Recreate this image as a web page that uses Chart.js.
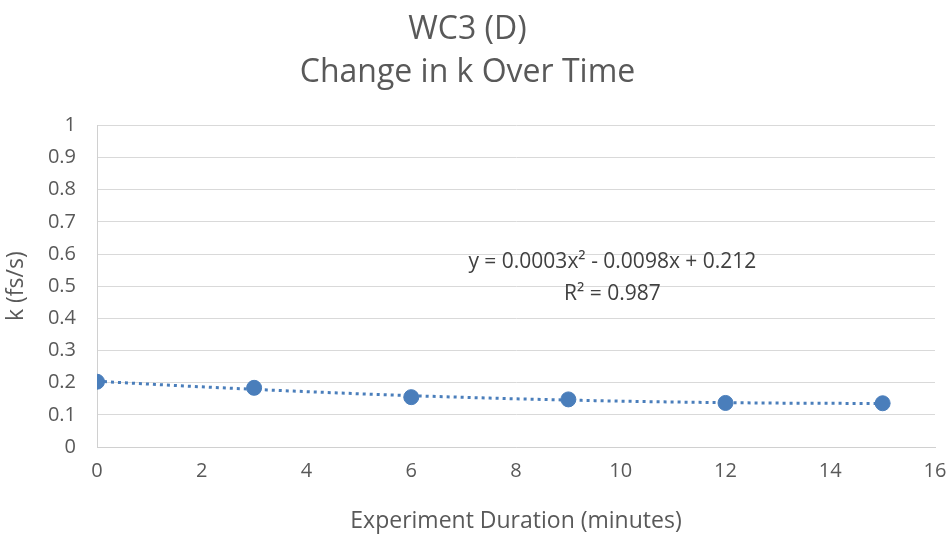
<!DOCTYPE html>
<html><head><meta charset="utf-8">
<script src="https://cdn.jsdelivr.net/npm/chart.js@4/dist/chart.umd.min.js"></script>
<style>html,body{margin:0;padding:0;background:#fff}#wrap{width:952px;height:537px}</style>
</head><body><div id="wrap"><canvas id="c" width="952" height="537"></canvas></div>
<script>
const minutes = [0, 3, 6, 9, 12, 15];
const kValues = [0.203, 0.184, 0.155, 0.148, 0.137, 0.136];
const titleLines = ['WC3 (D)', 'Change in k Over Time'];
const equationLines = ['y = 0.0003x² - 0.0098x + 0.212', 'R² = 0.987'];
const xTitle = 'Experiment Duration (minutes)';
const yTitle = 'k (fs/s)';

// quadratic least-squares trendline from the data
function quadFit(xs, ys) {
  let S = [0,0,0,0,0], T = [0,0,0];
  for (let i = 0; i < xs.length; i++) {
    const x = xs[i], y = ys[i];
    for (let p = 0; p < 5; p++) S[p] += Math.pow(x, p);
    for (let p = 0; p < 3; p++) T[p] += y * Math.pow(x, p);
  }
  const A = [[S[0],S[1],S[2],T[0]],[S[1],S[2],S[3],T[1]],[S[2],S[3],S[4],T[2]]];
  for (let i = 0; i < 3; i++) {
    for (let j = i + 1; j < 3; j++) {
      const f = A[j][i] / A[i][i];
      for (let k = i; k < 4; k++) A[j][k] -= f * A[i][k];
    }
  }
  const c = [0,0,0];
  for (let i = 2; i >= 0; i--) {
    let s = A[i][3];
    for (let k = i + 1; k < 3; k++) s -= A[i][k] * c[k];
    c[i] = s / A[i][i];
  }
  return c;
}
const coef = quadFit(minutes, kValues);
const trend = [];
for (let i = 0; i <= 60; i++) {
  const x = 15 * i / 60;
  trend.push({x: x, y: coef[0] + coef[1] * x + coef[2] * x * x});
}

const FONT = "'Open Sans', 'Noto Sans', sans-serif";
const GREY = '#595959';
const BLUE = '#4A7EBB';

const eqPlugin = {
  id: 'eq',
  afterDatasetsDraw(chart) {
    const ctx = chart.ctx, a = chart.chartArea;
    ctx.save();
    ctx.font = '21px ' + FONT;
    ctx.fillStyle = '#404040';
    ctx.textAlign = 'center';
    ctx.textBaseline = 'middle';
    const cx = a.left + (a.right - a.left) * 0.615;
    ctx.fillText(equationLines[0], cx, a.top + (a.bottom - a.top) * 0.425);
    ctx.fillText(equationLines[1], cx, a.top + (a.bottom - a.top) * 0.525);
    ctx.restore();
  }
};

new Chart(document.getElementById('c'), {
  type: 'scatter',
  data: {
    datasets: [
      {
        label: 'k',
        data: minutes.map((m, i) => ({x: m, y: kValues[i]})),
        backgroundColor: BLUE,
        borderColor: BLUE,
        pointRadius: 7.5,
        pointHoverRadius: 7.5,
        order: 1
      },
      {
        label: 'Poly. (k)',
        type: 'line',
        data: trend,
        borderColor: BLUE,
        borderWidth: 3,
        borderDash: [3, 4],
        borderCapStyle: 'butt',
        pointRadius: 0,
        fill: false,
        tension: 0,
        order: 2
      }
    ]
  },
  options: {
    responsive: false,
    animation: false,
    devicePixelRatio: 1,
    layout: {padding: {left: 0, right: 17, top: 0, bottom: 0}},
    plugins: {
      legend: {display: false},
      tooltip: {enabled: false},
      title: {
        display: true,
        text: titleLines,
        color: GREY,
        font: {family: FONT, size: 32, weight: 'normal', lineHeight: 1.35},
        padding: {top: 8, bottom: 31}
      }
    },
    scales: {
      x: {
        type: 'linear',
        min: 0, max: 16,
        afterFit: s => { s.height = 90; s.paddingRight = 0; s.paddingLeft = 0; },
        ticks: {stepSize: 2, color: GREY, font: {family: FONT, size: 20}, padding: 12},
        grid: {display: false, drawTicks: false},
        border: {display: true, color: '#d0d0d0', width: 1},
        title: {display: true, text: xTitle, color: GREY, font: {family: FONT, size: 23}, padding: {top: 0, bottom: 2}}
      },
      y: {
        min: 0, max: 1,
        afterFit: s => { s.width = 97; },
        ticks: {
          stepSize: 0.1, color: GREY, font: {family: FONT, size: 20}, padding: 21,
          callback: v => String(Math.round(v * 10) / 10)
        },
        grid: {color: '#d9d9d9', drawTicks: false},
        border: {display: true, color: '#d0d0d0'},
        title: {display: true, text: yTitle, color: GREY, font: {family: FONT, size: 23}, padding: {top: 3, bottom: 0}}
      }
    }
  },
  plugins: [eqPlugin]
});
</script>
</body></html>
